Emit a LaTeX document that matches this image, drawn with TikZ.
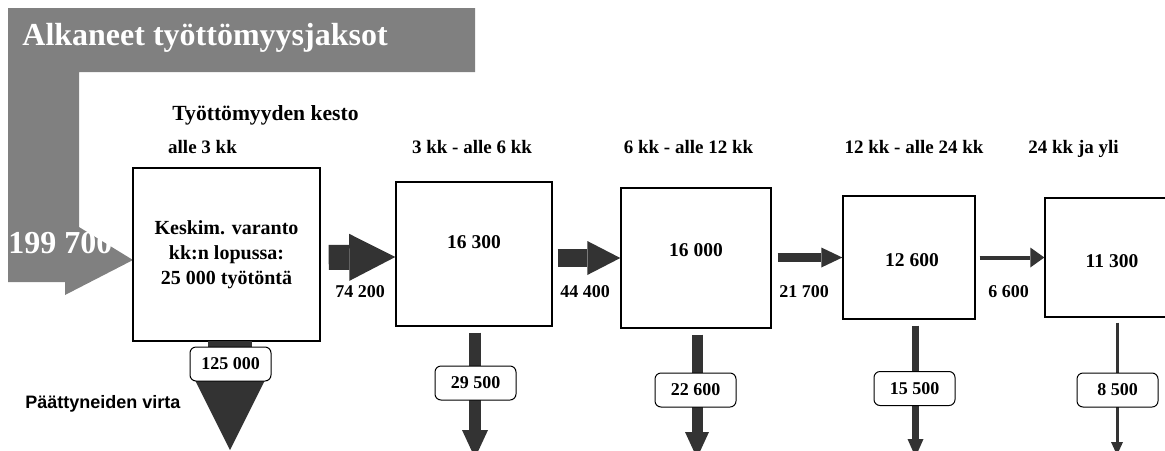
\documentclass[tikz,border=0pt]{standalone}
\usepackage{fontspec}
\setmainfont{Liberation Serif}
\newfontfamily\sanshead{Liberation Sans}
\usetikzlibrary{arrows.meta}

\definecolor{ingray}{HTML}{808080}
\definecolor{outdark}{HTML}{333333}

\tikzset{
  box/.style={draw, line width=0.7pt, fill=white, inner sep=0pt},
  numbox/.style={draw, line width=0.5pt, rounded corners=3pt, fill=white, minimum width=40.5pt, minimum height=17pt, inner sep=0pt, font=\fontsize{9}{11}\selectfont\bfseries},
  hdr/.style={anchor=base, inner sep=0pt, font=\fontsize{9.5}{11}\selectfont\bfseries},
  flowlbl/.style={anchor=base, inner sep=0pt, font=\fontsize{9}{11}\selectfont\bfseries},
  val/.style={anchor=base, inner sep=0pt, font=\fontsize{9.75}{12}\selectfont\bfseries},
}

\begin{document}
\begin{tikzpicture}[x=0.5pt,y=-0.5pt]
  \useasboundingbox (0,0) rectangle (1165,450);
  \clip (0,0) rectangle (1165,450);

  \fill[ingray] (8,8) -- (475,8) -- (475,72) -- (79,72) -- (79,227) -- (133,260) -- (65,295) -- (65,282) -- (8,282) -- cycle;
  \node[anchor=base west, inner sep=0pt, white, font=\fontsize{16}{18}\selectfont\bfseries] (title) at (22,45) {Alkaneet työttömyysjaksot};
  \node[anchor=base west, inner sep=0pt, white, font=\fontsize{16}{18}\selectfont\bfseries] (inflow) at (8,253) {199 700};

  \node[hdr, font=\fontsize{10.8}{12}\selectfont\bfseries] (kesto) at (265.5,120) {Työttömyyden kesto};
  \node[hdr] (h1) at (202.5,153) {alle 3 kk};
  \node[hdr] (h2) at (472,153) {3 kk - alle 6 kk};
  \node[hdr] (h3) at (688.5,153) {6 kk - alle 12 kk};
  \node[hdr] (h4) at (914,153) {12 kk - alle 24 kk};
  \node[hdr] (h5) at (1073.5,153) {24 kk ja yli};

  \node[box, minimum width=93.5pt, minimum height=86.5pt, align=center, font=\fontsize{10}{12.5}\selectfont\bfseries] (b1) at (226.5,254.5) {Keskim. varanto\\kk:n lopussa:\\25 000 työtöntä};
  \node[box, minimum width=78pt, minimum height=72pt] (b2) at (474,254) {};
  \node[box, minimum width=75pt, minimum height=70pt] (b3) at (696,258) {};
  \node[box, minimum width=66pt, minimum height=61.5pt] (b4) at (909,257.5) {};
  \node[box, minimum width=67pt, minimum height=59.5pt] (b5) at (1112,257.5) {};

  \node[val] (v2) at (474,248) {16 300};
  \node[val] (v3) at (696,256) {16 000};
  \node[val] (v4) at (912,266) {12 600};
  \node[val] (v5) at (1112,267) {11 300};

  \draw[outdark, line width=12.5pt, -{Triangle[length=23pt,width=23.5pt,line width=0pt]}, shorten <=4pt] ([yshift=-1.5pt]b1.east) -- ([yshift=-1.5pt]b2.west);
  \draw[outdark, line width=9pt, -{Triangle[length=16.5pt,width=17pt,line width=0pt]}, shorten <=2.5pt] (b2.east |- b3.west) -- (b3.west);
  \draw[outdark, line width=4.5pt, -{Triangle[length=10.5pt,width=10pt,line width=0pt]}, shorten <=3pt] (b3.east |- b4.west) -- (b4.west);
  \draw[outdark, line width=2pt, -{Triangle[length=7pt,width=10pt,line width=0pt]}, shorten <=2pt] (b4.east) -- (b5.west);

  \node[flowlbl] (f1) at (360,297) {74 200};
  \node[flowlbl] (f2) at (585,297) {44 400};
  \node[flowlbl] (f3) at (804,297) {21 700};
  \node[flowlbl] (f4) at (1008.5,297) {6 600};

  \fill[outdark] (208,341) rectangle (252,350);
  \fill[outdark] (195,380) -- (265,380) -- (230,450) -- cycle;
  \node[numbox] (l1) at (230.5,364) {125 000};
  \node[anchor=base west, inner sep=0pt, font=\sanshead\fontsize{9}{11}\selectfont\bfseries] (virta) at (25,408) {Päättyneiden virta};

  \coordinate (e2) at (475,458);
  \coordinate (e3) at (697,458);
  \coordinate (e4) at (915.5,457);
  \coordinate (e5) at (1117,455);
  \draw[outdark, line width=6pt, -{Triangle[length=14pt,width=13pt,line width=0pt]}, shorten <=3pt] (e2 |- b2.south) -- (e2);
  \draw[outdark, line width=5.5pt, -{Triangle[length=13pt,width=12pt,line width=0pt]}, shorten <=3pt] (e3 |- b3.south) -- (e3);
  \draw[outdark, line width=3.5pt, -{Triangle[length=9pt,width=8pt,line width=0pt]}, shorten <=3pt] (e4 |- b4.south) -- (e4);
  \draw[outdark, line width=1.5pt, -{Triangle[length=6.5pt,width=6pt,line width=0pt]}, shorten <=2.5pt] (e5 |- b5.south) -- (e5);

  \node[numbox] (l2) at (475.5,383) {29 500};
  \node[numbox] (l3) at (695.5,390) {22 600};
  \node[numbox] (l4) at (914.5,388.5) {15 500};
  \node[numbox] (l5) at (1117.5,390) {8 500};
\end{tikzpicture}
\end{document}
